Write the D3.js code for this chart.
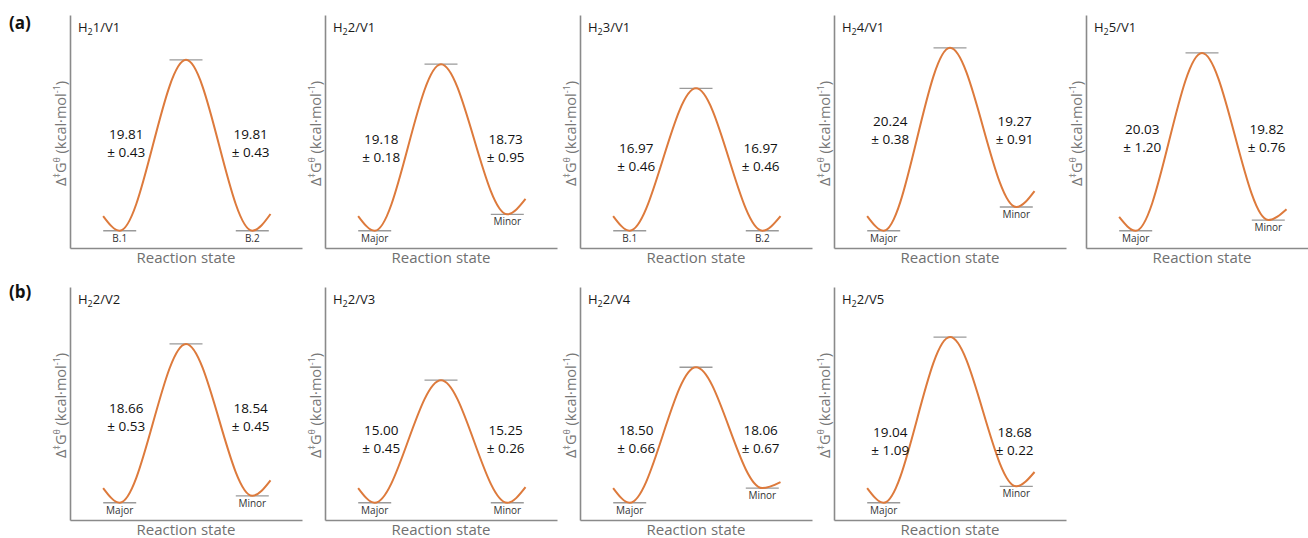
<!DOCTYPE html>
<html>
<head>
<meta charset="utf-8">
<script src="https://cdn.jsdelivr.net/npm/d3@7"></script>
<style>
  body { margin: 0; background: #fff; }
  svg text { font-family: "Open Sans", "Noto Sans", sans-serif; }
</style>
</head>
<body>
<div id="chart"></div>
<script>
// panel data (energies in kcal/mol, left minimum = 0)
var titles = ["1/V1", "2/V1", "3/V1", "4/V1", "5/V1", "2/V2", "2/V3", "2/V4", "2/V5"]
var rowOf = [0, 0, 0, 0, 0, 1, 1, 1, 1]
var leftStates = ["B.1", "Major", "B.1", "Major", "Major", "Major", "Major", "Major", "Major"]
var rightStates = ["B.2", "Minor", "B.2", "Minor", "Minor", "Minor", "Minor", "Minor", "Minor"]
var leftBarrier = ["19.81", "19.18", "16.97", "20.24", "20.03", "18.66", "15.00", "18.50", "19.04"]
var leftErr = ["0.43", "0.18", "0.46", "0.38", "1.20", "0.53", "0.45", "0.66", "1.09"]
var rightBarrier = ["19.81", "18.73", "16.97", "19.27", "19.82", "18.54", "15.25", "18.06", "18.68"]
var rightErr = ["0.43", "0.95", "0.46", "0.91", "0.76", "0.45", "0.26", "0.67", "0.22"]

// energy profile levels drawn in each panel
var startLevel = [1.7, 1.7, 1.7, 1.7, 1.6, 1.7, 1.7, 1.7, 1.7]
var minLeft = [0, 0, 0, 0, 0, 0, 0, 0, 0]
var peakLevel = [19.8, 19.3, 16.5, 21.2, 20.6, 18.4, 14.2, 15.7, 19.2]
var minRight = [0, 1.9, 0, 2.75, 1.24, 0.8, 0, 1.7, 1.9]
var endLevel = [1.94, 3.68, 1.7, 4.6, 2.5, 2.6, 1.8, 2.4, 3.56]
var labelLevel = [10.2, 9.6, 8.5, 11.7, 10.7, 9.9, 7.4, 7.4, 7.2]

// reaction coordinate of start, left min, TS, right min, end
var reactionCoord = [1.0, 1.5, 3.5, 5.5, 6.05]

var width = 1308, height = 538
var innerW = 232, innerH = 233
var rowTop = [15, 287]
var colX = [70, 325, 580, 834, 1086]

var svg = d3.select("#chart")
  .append("svg")
  .attr("width", width)
  .attr("height", height)

var xScale = d3.scaleLinear().domain([0, 7]).range([0, innerW])
var yScale = d3.scaleLinear().domain([-2, 25]).range([innerH, 0])

var line = d3.line()
  .x(d => xScale(d[0]))
  .y(d => yScale(d[1]))
  .curve(d3.curveMonotoneX)

// row letters
svg.append("text").attr("x", 9).attr("y", 29)
  .style("font-size", "17px").style("font-weight", "bold").style("fill", "#111").text("(a)")
svg.append("text").attr("x", 9).attr("y", 298)
  .style("font-size", "17px").style("font-weight", "bold").style("fill", "#111").text("(b)")

var rowCount = [0, 0]

titles.forEach((t, i) => {
  var r = rowOf[i]
  var c = rowCount[r]++
  var g = svg.append("g")
    .attr("transform", `translate(${colX[c]},${rowTop[r]})`)

  // axes (no ticks)
  var xAxis = d3.axisBottom(xScale).tickValues([]).tickSizeOuter(0)
  var yAxis = d3.axisLeft(yScale).tickValues([]).tickSizeOuter(0)
  g.append("g").attr("transform", `translate(0,${innerH})`).call(xAxis)
    .select(".domain").style("stroke", "#8a8a8a").style("stroke-width", 1.6)
  g.append("g").call(yAxis)
    .select(".domain").style("stroke", "#8a8a8a").style("stroke-width", 1.6)

  // title H2x/Vy
  var title = g.append("text").attr("x", 8).attr("y", 17)
    .style("font-size", "13px").style("fill", "#1a1a1a")
  title.append("tspan").text("H")
  title.append("tspan").attr("baseline-shift", "-3").style("font-size", "9px").text("2")
  title.append("tspan").text(t)

  // y label
  var yl = g.append("text")
    .attr("transform", `translate(-4,${innerH / 2 + 2}) rotate(-90)`)
    .attr("text-anchor", "middle")
    .style("font-size", "14.5px").style("fill", "#777")
  yl.append("tspan").text("Δ")
  yl.append("tspan").attr("baseline-shift", "super").style("font-size", "9px").text("‡")
  yl.append("tspan").text("G")
  yl.append("tspan").attr("baseline-shift", "super").style("font-size", "9px").text("θ")
  yl.append("tspan").text(" (kcal·mol")
  yl.append("tspan").attr("baseline-shift", "super").style("font-size", "9px").text("-1")
  yl.append("tspan").text(")")

  // x label
  g.append("text")
    .attr("x", innerW / 2).attr("y", innerH + 15)
    .attr("text-anchor", "middle")
    .style("font-size", "15px").style("fill", "#707070")
    .text("Reaction state")

  // level bars at minima and TS
  var levels = [[reactionCoord[1], minLeft[i]], [reactionCoord[2], peakLevel[i]], [reactionCoord[3], minRight[i]]]
  g.selectAll(".level")
    .data(levels)
    .enter()
    .append("line")
    .attr("class", "level")
    .attr("x1", d => xScale(d[0]) - 16.5)
    .attr("x2", d => xScale(d[0]) + 16.5)
    .attr("y1", d => yScale(d[1]))
    .attr("y2", d => yScale(d[1]))
    .style("stroke", "#9a9a9a")
    .style("stroke-width", 1.3)

  // profile curve
  var levelsAll = [startLevel[i], minLeft[i], peakLevel[i], minRight[i], endLevel[i]]
  var pts = reactionCoord.map((x, k) => [x, levelsAll[k]])
  g.append("path")
    .datum(pts)
    .attr("d", line)
    .style("fill", "none")
    .style("stroke", "#dd7a3c")
    .style("stroke-width", 2)

  // state names under minima
  g.append("text")
    .attr("x", xScale(reactionCoord[1])).attr("y", yScale(minLeft[i]) + 11)
    .attr("text-anchor", "middle")
    .style("font-size", "10px").style("fill", "#333")
    .text(leftStates[i])
  g.append("text")
    .attr("x", xScale(reactionCoord[3])).attr("y", yScale(minRight[i]) + 11)
    .attr("text-anchor", "middle")
    .style("font-size", "10px").style("fill", "#333")
    .text(rightStates[i])

  // barrier labels
  var labs = [[1.7, leftBarrier[i], leftErr[i]], [5.45, rightBarrier[i], rightErr[i]]]
  labs.forEach(d => {
    var ty = yScale(labelLevel[i])
    g.append("text")
      .attr("x", xScale(d[0])).attr("y", ty - 4)
      .attr("text-anchor", "middle")
      .style("font-size", "13.5px").style("fill", "#111")
      .text(d[1])
    g.append("text")
      .attr("x", xScale(d[0])).attr("y", ty + 14)
      .attr("text-anchor", "middle")
      .style("font-size", "13.5px").style("fill", "#111")
      .text("± " + d[2])
  })
})
</script>
</body>
</html>
